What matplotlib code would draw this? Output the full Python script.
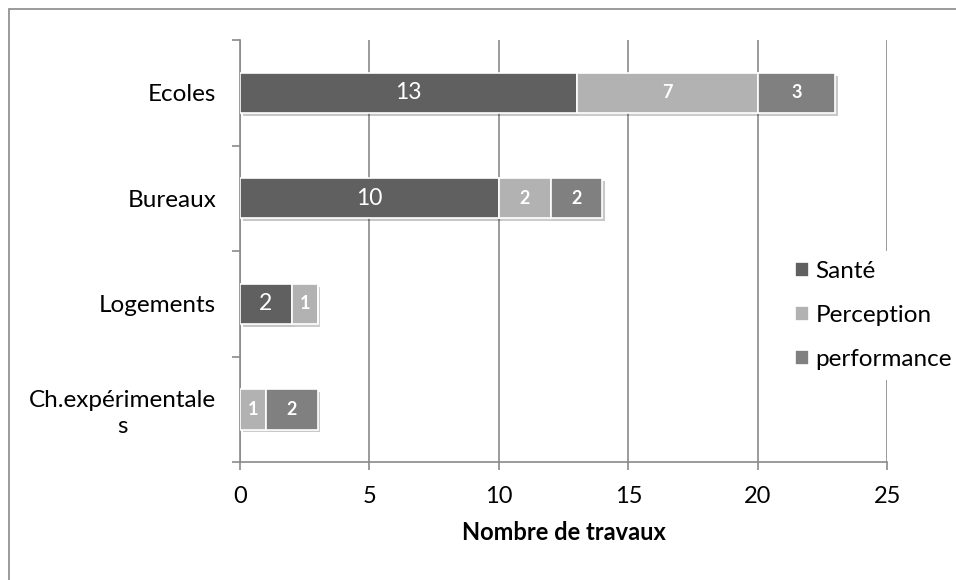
import matplotlib
matplotlib.use('Agg')
import matplotlib.pyplot as plt
import matplotlib.patheffects as pe
import numpy as np
from matplotlib.patches import Rectangle

categories = ['Ecoles', 'Bureaux', 'Logements', 'Ch.expérimentale\ns']
series_names = ['Santé', 'Perception', 'performance']
sante = [13, 10, 2, 0]
perception = [7, 2, 1, 1]
performance = [3, 2, 0, 2]
colors = ['#606060', '#b2b2b2', '#808080']
x_ticks = [0, 5, 10, 15, 20, 25]

plt.rcParams['font.family'] = ['Lato', 'DejaVu Sans']

fig = plt.figure(figsize=(9.56, 5.8), dpi=100)
ax = fig.add_axes([0.251, 0.203, 0.677, 0.728])

# chart area border (Excel style)
fig.patches.append(Rectangle((9 / 956, -0.05), 1.2, 1 - 9 / 580 + 0.05,
                             transform=fig.transFigure, fill=False,
                             edgecolor='#8a8a8a', linewidth=1.2))

y = np.arange(len(categories))[::-1]
left = np.zeros(len(categories))
shadow = [pe.SimplePatchShadow(offset=(2, -2), alpha=0.25), pe.Normal()]
for name, vals, col in zip(series_names, [sante, perception, performance], colors):
    vals = np.array(vals, dtype=float)
    bars = ax.barh(y, vals, left=left, height=0.38, color=col,
                   edgecolor='white', linewidth=1.2, label=name, zorder=3)
    for b in bars:
        b.set_path_effects(shadow)
    for yi, l, v in zip(y, left, vals):
        if v <= 0:
            continue
        if name == 'Santé':
            ax.text(l + v / 2, yi, f'{int(v)}', color='white', fontsize=16.5,
                    ha='center', va='center', zorder=4)
        else:
            ax.text(l + v / 2, yi, f'{int(v)}', color='white', fontsize=13,
                    fontweight='bold', ha='center', va='center', zorder=4)
    left += vals

ax.set_xlim(0, 25)
ax.set_ylim(-0.5, len(categories) - 0.5)
ax.set_xticks(x_ticks)
ax.set_xticklabels([str(t) for t in x_ticks], fontsize=17)
ax.set_yticks(y)
ax.set_yticklabels(categories, fontsize=17.5, multialignment='center',
                   linespacing=1.25)
ax.set_yticks(np.arange(len(categories) + 1) - 0.5, minor=True)
ax.tick_params(axis='y', which='major', length=0, pad=17)
ax.tick_params(axis='y', which='minor', length=6, color='#8a8a8a', width=1.2)
ax.tick_params(axis='x', length=6, color='#8a8a8a', width=1.2, pad=11)

ax.grid(axis='x', color='#8a8a8a', linewidth=1.2, zorder=0)
ax.set_axisbelow(True)
for s in ['top', 'right']:
    ax.spines[s].set_visible(False)
for s in ['left', 'bottom']:
    ax.spines[s].set_color('#8a8a8a')
    ax.spines[s].set_linewidth(1.2)

ax.set_xlabel('Nombre de travaux', fontsize=17, fontweight='bold', labelpad=10)

leg = ax.legend(loc='center left', bbox_to_anchor=(0.824, 0.348), frameon=True,
                fontsize=17.5, handlelength=0.58, handleheight=0.58,
                labelspacing=0.95, handletextpad=0.25, borderpad=0.4)
leg.get_frame().set_facecolor('white')
leg.get_frame().set_edgecolor('none')
leg.get_frame().set_alpha(1)
leg.set_zorder(5)
for h in leg.legend_handles:
    h.set_path_effects([])

fig.savefig('out.png', dpi=100)
